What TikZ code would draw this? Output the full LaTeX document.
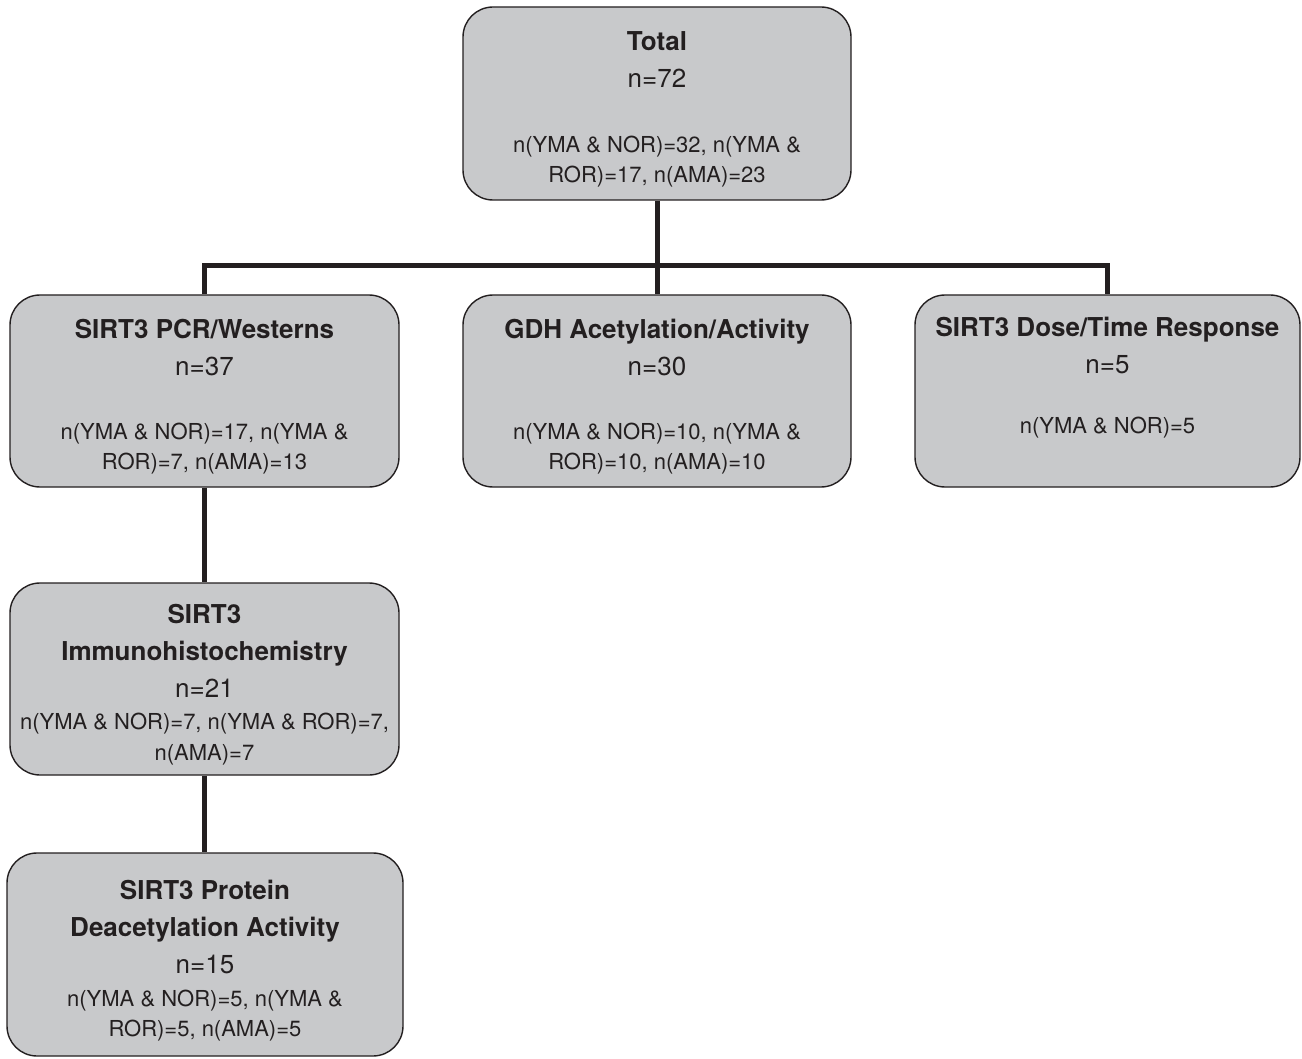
\documentclass[tikz,border=0pt]{standalone}
\usepackage{fontspec}
\setmainfont{TeX Gyre Heros}
\definecolor{ink}{HTML}{231F20}
\definecolor{boxgray}{HTML}{C8C9CB}
\newcommand{\hd}[1]{\textbf{#1}}
\newcommand{\sm}[1]{{\fontsize{11}{13}\selectfont #1}}
\newcommand{\topstrut}{\rule{0pt}{15.5pt}}
\tikzset{
  box/.style={rounded corners=15pt,fill=boxgray,draw=ink,line width=0.7pt,text=ink,align=center,
    minimum width=194.5pt,minimum height=96pt,inner sep=2pt,font=\fontsize{13}{18.5}\selectfont},
  link/.style={draw=ink,line width=2.5pt},
}

\begin{document}
\begin{tikzpicture}[x=0.5pt,y=-0.5pt]
\useasboundingbox (0,0) rectangle (1302,1059);
\node[box,minimum width=194pt,minimum height=96.5pt] (tot) at (657,103.5)
  {\topstrut\hd{Total}\\n=72\\[14pt]\sm{n(YMA \& NOR)=32, n(YMA \&}\\[-3.5pt]\sm{ROR)=17, n(AMA)=23}};
\node[box] (pcr) at (204.5,391)
  {\topstrut\hd{SIRT3 PCR/Westerns}\\n=37\\[13.5pt]\sm{n(YMA \& NOR)=17, n(YMA \&}\\[-3.5pt]\sm{ROR)=7, n(AMA)=13}};
\node[box,minimum width=194pt] (gdh) at (657,391)
  {\topstrut\hd{GDH Acetylation/Activity}\\n=30\\[13.5pt]\sm{n(YMA \& NOR)=10, n(YMA \&}\\[-3.5pt]\sm{ROR)=10, n(AMA)=10}};
\node[box,minimum width=192.5pt] (dose) at (1107.5,391)
  {\topstrut\hd{SIRT3 Dose/Time Response}\\n=5\\[11.5pt]\sm{n(YMA \& NOR)=5}\\[3pt]\sm{\phantom{n}}};
\node[box] (imm) at (204.5,679)
  {\topstrut\hd{SIRT3}\\\hd{Immunohistochemistry}\\n=21\\[-2.5pt]\sm{n(YMA \& NOR)=7, n(YMA \& ROR)=7,}\\[-3pt]\sm{n(AMA)=7}};
\node[box,minimum width=198pt,minimum height=101.5pt] (prot) at (205,954.5)
  {\topstrut\hd{SIRT3 Protein}\\\hd{Deacetylation Activity}\\n=15\\[-2pt]\sm{n(YMA \& NOR)=5, n(YMA \&}\\[-3.5pt]\sm{ROR)=5, n(AMA)=5}};
\coordinate (bus) at (657,266);
\draw[link] (tot.south) -- (tot.south |- bus);
\draw[link] (pcr.north) -- (pcr.north |- bus) -- (dose.north |- bus) -- (dose.north);
\draw[link] (gdh.north) -- (gdh.north |- bus);
\draw[link] (pcr.south) -- (imm.north);
\draw[link] (imm.south) -- (imm.south |- prot.north);
\end{tikzpicture}
\end{document}
